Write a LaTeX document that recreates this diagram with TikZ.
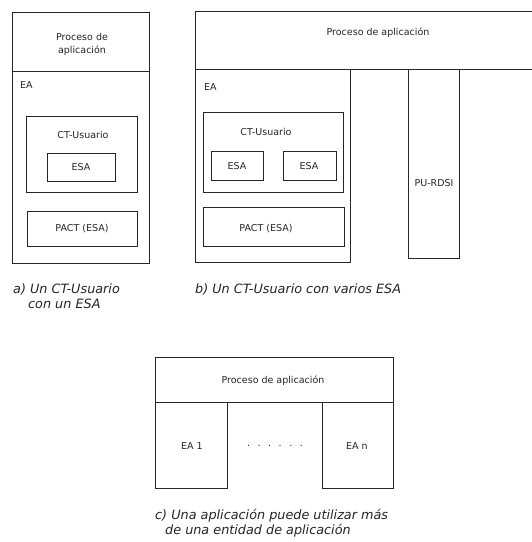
\documentclass[tikz,border=0pt]{standalone}
\usepackage{fontspec}
\setmainfont{DejaVu Sans}
\begin{document}
\begin{tikzpicture}[x=1pt,y=-1pt,
  frame/.style={draw=black!85,line width=0.7pt},
  lbl/.style={inner sep=0pt,text=black!85,font=\fontsize{9.5}{13}\selectfont},
  captext/.style={inner sep=0pt,anchor=base west,text=black!85,font=\fontsize{12.8}{15}\selectfont\itshape}]
\useasboundingbox (0,0) rectangle (532,542);
\fill[white] (0,0) rectangle (532,542);
% ---------- panel a ----------
\draw[frame] (12,12) rectangle (149,263);
\draw[frame] (12,71) -- (149,71);
\node[lbl,align=center] (apa) at (82,44) {Proceso de\\aplicación};
\node[lbl,anchor=west] (aea) at (20,85) {EA};
\draw[frame] (26,116) rectangle (137,192);
\node[lbl] (act) at (83,135) {CT-Usuario};
\draw[frame] (47,153) rectangle (115,181);
\node[lbl] (aesa) at (81,167) {ESA};
\draw[frame] (27,211) rectangle (137,246);
\node[lbl] (apact) at (82,229) {PACT (ESA)};
\node[captext] (capa1) at (13,293) {a) Un CT-Usuario};
\node[captext] (capa2) at (28,308) {con un ESA};
% ---------- panel b ----------
\draw[frame] (532,11) -- (195,11) -- (195,262) -- (350,262) -- (350,69);
\draw[frame] (195,69) -- (532,69);
\node[lbl] (bpa) at (378,33) {Proceso de aplicación};
\node[lbl,anchor=west] (bea) at (204,87) {EA};
\draw[frame] (203,112) rectangle (343,192);
\node[lbl] (bct) at (266,132) {CT-Usuario};
\draw[frame] (211,151) rectangle (263,180);
\node[lbl] (besa1) at (237,166) {ESA};
\draw[frame] (283,151) rectangle (336,180);
\node[lbl] (besa2) at (309,166) {ESA};
\draw[frame] (203,207) rectangle (344,246);
\node[lbl] (bpact) at (266,229) {PACT (ESA)};
\draw[frame] (408,69) rectangle (459,258);
\node[lbl] (bpu) at (434,183) {PU-RDSI};
\node[captext] (capb) at (195,293) {b) Un CT-Usuario con varios ESA};
% ---------- panel c ----------
\draw[frame] (155,357) rectangle (393,402);
\node[lbl] (cpa) at (273,381) {Proceso de aplicación};
\draw[frame] (155,402) rectangle (227,488);
\node[lbl] (cea1) at (192,446) {EA 1};
\draw[frame] (322,402) rectangle (393,488);
\node[lbl] (cean) at (357,446) {EA n};
\node[lbl] (cdots) at (275,446) {.\hspace{7.5pt}.\hspace{7.5pt}.\hspace{7.5pt}.\hspace{7.5pt}.\hspace{7.5pt}.};
\node[captext] (capc1) at (155,519) {c) Una aplicación puede utilizar más};
\node[captext] (capc2) at (165,534) {de una entidad de aplicación};
\end{tikzpicture}
\end{document}
